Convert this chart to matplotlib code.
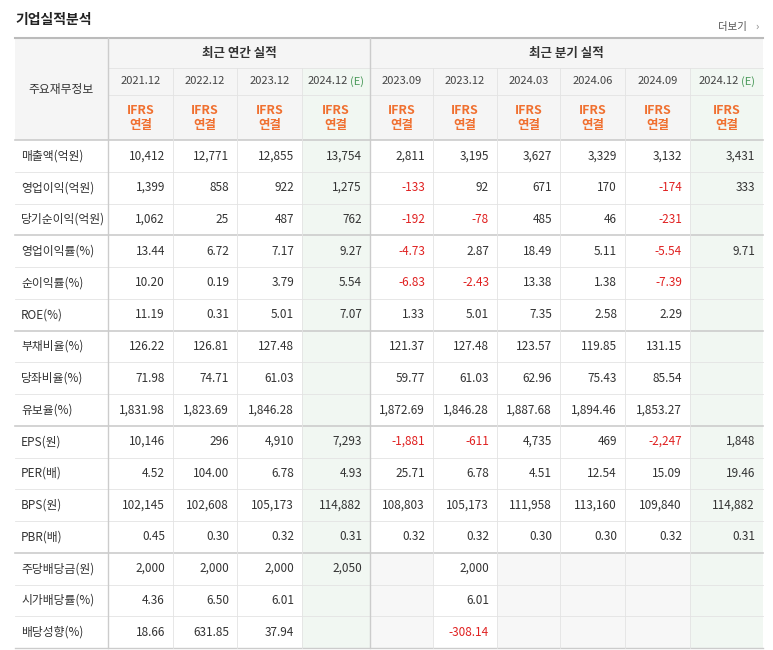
import matplotlib
matplotlib.use("Agg")
import matplotlib.pyplot as plt
from matplotlib.patches import Rectangle

plt.rcParams['font.family'] = 'Noto Sans CJK KR'

row_labels = ["매출액(억원)", "영업이익(억원)", "당기순이익(억원)", "영업이익률(%)", "순이익률(%)", "ROE(%)",
              "부채비율(%)", "당좌비율(%)", "유보율(%)", "EPS(원)", "PER(배)", "BPS(원)", "PBR(배)",
              "주당배당금(원)", "시가배당률(%)", "배당성향(%)"]
annual_periods = ["2021.12", "2022.12", "2023.12", "2024.12"]
quarter_periods = ["2023.09", "2023.12", "2024.03", "2024.06", "2024.09", "2024.12"]
values = [
    ["10,412", "12,771", "12,855", "13,754", "2,811", "3,195", "3,627", "3,329", "3,132", "3,431"],
    ["1,399", "858", "922", "1,275", "-133", "92", "671", "170", "-174", "333"],
    ["1,062", "25", "487", "762", "-192", "-78", "485", "46", "-231", ""],
    ["13.44", "6.72", "7.17", "9.27", "-4.73", "2.87", "18.49", "5.11", "-5.54", "9.71"],
    ["10.20", "0.19", "3.79", "5.54", "-6.83", "-2.43", "13.38", "1.38", "-7.39", ""],
    ["11.19", "0.31", "5.01", "7.07", "1.33", "5.01", "7.35", "2.58", "2.29", ""],
    ["126.22", "126.81", "127.48", "", "121.37", "127.48", "123.57", "119.85", "131.15", ""],
    ["71.98", "74.71", "61.03", "", "59.77", "61.03", "62.96", "75.43", "85.54", ""],
    ["1,831.98", "1,823.69", "1,846.28", "", "1,872.69", "1,846.28", "1,887.68", "1,894.46", "1,853.27", ""],
    ["10,146", "296", "4,910", "7,293", "-1,881", "-611", "4,735", "469", "-2,247", "1,848"],
    ["4.52", "104.00", "6.78", "4.93", "25.71", "6.78", "4.51", "12.54", "15.09", "19.46"],
    ["102,145", "102,608", "105,173", "114,882", "108,803", "105,173", "111,958", "113,160", "109,840", "114,882"],
    ["0.45", "0.30", "0.32", "0.31", "0.32", "0.32", "0.30", "0.30", "0.32", "0.31"],
    ["2,000", "2,000", "2,000", "2,050", "", "2,000", "", "", "", ""],
    ["4.36", "6.50", "6.01", "", "", "6.01", "", "", "", ""],
    ["18.66", "631.85", "37.94", "", "", "-308.14", "", "", "", ""],
]

W, H = 773, 650
fig = plt.figure(figsize=(W/100, H/100), dpi=100)
ax = fig.add_axes([0, 0, 1, 1])
ax.set_xlim(0, W); ax.set_ylim(H, 0); ax.axis('off')

xs = [15, 108, 173, 237, 302, 370, 433, 497, 560, 625, 690, 763]
y_top, y_h1, y_h2, y_h3 = 38, 68, 95, 140
rh = (648 - y_h3) / len(row_labels)
est_cols = [3, 9]
line_c = "#e3e3e3"
head_bg = "#f5f5f5"
green_bg = "#f1f7f2"

ax.add_patch(Rectangle((xs[0], y_top), xs[-1]-xs[0], y_h3-y_top, color=head_bg, lw=0))
for c in est_cols:
    ax.add_patch(Rectangle((xs[c+1], y_h1), xs[c+2]-xs[c+1], 648-y_h1, color=green_bg, lw=0))
for r in range(13, 16):
    for c in range(10):
        if c >= 4 and values[r][c] == "" and c not in est_cols:
            ax.add_patch(Rectangle((xs[c+1], y_h3+r*rh), xs[c+2]-xs[c+1], rh, color="#f7f7f7", lw=0))

ax.plot([xs[0], xs[-1]], [y_top, y_top], color="#bbbbbb", lw=1.5)
for i in range(len(row_labels)):
    y = y_h3 + i*rh
    lw, col = (1.2, "#cccccc") if i in (0, 3, 6, 9, 13) else (0.6, line_c)
    ax.plot([xs[0], xs[-1]], [y, y], color=col, lw=lw)
ax.plot([xs[0], xs[-1]], [648, 648], color="#cccccc", lw=1)
ax.plot([xs[1], xs[-1]], [y_h1, y_h1], color=line_c, lw=0.6)
ax.plot([xs[1], xs[-1]], [y_h2, y_h2], color=line_c, lw=0.6)
for i, x in enumerate(xs[1:-1], start=1):
    if i in (1, 5):
        ax.plot([x, x], [y_top, 648], color="#cccccc", lw=1)
    else:
        ax.plot([x, x], [y_h1, 648], color=line_c, lw=0.6)

ax.text(15, 20, "기업실적분석", fontsize=10, fontweight='bold', va='center', color="#222222")
ax.text(718, 27, "더보기", fontsize=7.5, va='center', color="#555555")
ax.text(755, 27, "›", fontsize=8, va='center', color="#888888")
ax.text((xs[0]+xs[1])/2, (y_top+y_h3)/2, "주요재무정보", fontsize=8.5, ha='center', va='center', color="#333333")
ax.text((xs[1]+xs[5])/2, (y_top+y_h1)/2, "최근 연간 실적", fontsize=9, fontweight='bold', ha='center', va='center', color="#333333")
ax.text((xs[5]+xs[-1])/2, (y_top+y_h1)/2, "최근 분기 실적", fontsize=9, fontweight='bold', ha='center', va='center', color="#333333")

periods = annual_periods + quarter_periods
for c, p in enumerate(periods):
    cx = (xs[c+1]+xs[c+2])/2
    cy = (y_h1+y_h2)/2
    if c in est_cols:
        ax.text(cx-8, cy, p, fontsize=8, ha='center', va='center', color="#444444")
        ax.text(cx+21, cy, "(E)", fontsize=8, ha='center', va='center', color="#4a9a5a")
    else:
        ax.text(cx, cy, p, fontsize=8, ha='center', va='center', color="#444444")
    ax.text(cx, 110, "IFRS", fontsize=9, fontweight='bold', ha='center', va='center', color="#f07030")
    ax.text(cx, 125, "연결", fontsize=9, fontweight='bold', ha='center', va='center', color="#f07030")

for r, lab in enumerate(row_labels):
    cy = y_h3 + (r+0.5)*rh
    ax.text(21, cy, lab, fontsize=8.5, va='center', color="#333333")
    for c, v in enumerate(values[r]):
        if v:
            ax.text(xs[c+2]-8, cy, v, fontsize=8.5, ha='right', va='center',
                    color="#e02020" if v.startswith('-') else "#333333")

fig.savefig("out.png", dpi=100)
